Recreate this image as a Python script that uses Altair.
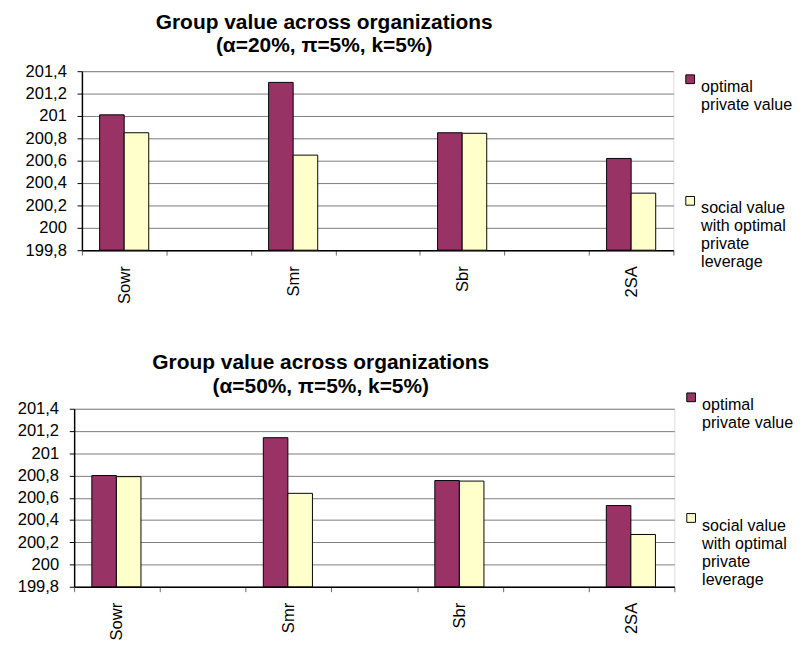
import altair as alt
import pandas as pd

categories = ["Sowr", "Smr", "Sbr", "2SA"]
axis_slots = ["Sowr", "gap1", "Smr", "gap2", "Sbr", "gap3", "2SA"]
series = ["optimal|private value", "social value|with optimal|private|leverage"]
colors = ["#993366", "#FFFFCC"]

top_private = [201.01, 201.30, 200.85, 200.62]
top_social = [200.85, 200.65, 200.845, 200.31]
bottom_private = [200.80, 201.14, 200.755, 200.53]
bottom_social = [200.79, 200.64, 200.75, 200.27]

y_ticks = [199.8, 200.0, 200.2, 200.4, 200.6, 200.8, 201.0, 201.2, 201.4]

top_title = ["Group value across organizations", "(α=20%, π=5%, k=5%)"]
bottom_title = ["Group value across organizations", "(α=50%, π=5%, k=5%)"]

FONT = "Liberation Sans"


def make_df(priv, soc):
    rows = []
    for c, p, s in zip(categories, priv, soc):
        rows.append({"cat": c, "series": series[0], "value": p})
        rows.append({"cat": c, "series": series[1], "value": s})
    return pd.DataFrame(rows)


def panel(df, title, w, h, ext, lx, ly, row_pad, t_offset, t_dx):
    return alt.Chart(df).mark_bar(stroke="black", strokeWidth=1).encode(
        x=alt.X(
            "cat:N",
            sort=axis_slots,
            scale=alt.Scale(domain=axis_slots, paddingInner=0, paddingOuter=0),
            axis=alt.Axis(
                title=None,
                labelAngle=-90,
                labelExpr="indexof(datum.label, 'gap') == 0 ? '' : datum.label",
                tickBand="extent",
                tickSize=5,
                tickColor="#666666",
                labelPadding=11,
                labelFontSize=17,
                labelFont=FONT,
                labelColor="black",
                domainColor="black",
                domainWidth=1.5,
                grid=False,
            ),
        ),
        xOffset=alt.XOffset(
            "series:N",
            scale=alt.Scale(domain=series, paddingOuter=0.72, paddingInner=0),
        ),
        y=alt.Y(
            "value:Q",
            scale=alt.Scale(domain=[199.8, 201.4], zero=False, nice=False),
            axis=alt.Axis(
                title=None,
                values=y_ticks,
                labelExpr="replace(toString(round(datum.value * 10) / 10), '.', ',')",
                tickSize=5,
                tickColor="black",
                labelPadding=11,
                labelFontSize=17,
                labelFont=FONT,
                labelColor="black",
                domainColor="black",
                domainWidth=1.5,
                grid=True,
                gridColor="#7a7a7a",
                gridWidth=1,
                minExtent=ext,
                maxExtent=ext,
            ),
        ),
        y2=alt.datum(199.8),
        color=alt.Color(
            "series:N",
            scale=alt.Scale(domain=series, range=colors),
            legend=alt.Legend(
                title=None,
                orient="none",
                legendX=lx,
                legendY=ly,
                direction="vertical",
                symbolType="square",
                symbolSize=81,
                symbolStrokeColor="black",
                symbolStrokeWidth=1,
                symbolOpacity=1,
                labelFont=FONT,
                labelFontSize=16.5,
                labelColor="black",
                labelLimit=0,
                labelOffset=3,
                labelBaseline="top",
                rowPadding=row_pad,
                labelExpr="split(datum.label, '|')",
            ),
        ),
    ).properties(
        width=w,
        height=h,
        title=alt.Title(
            title,
            font=FONT,
            fontSize=21.5,
            fontWeight="bold",
            lineHeight=24,
            anchor="middle",
            frame="group",
            dx=t_dx,
            offset=t_offset,
            color="black",
        ),
    )


def spacer():
    return alt.Chart(pd.DataFrame({"s": [0]})).mark_point(opacity=0).encode(
        x=alt.value(0), y=alt.value(0)
    ).properties(
        width=1,
        height=1,
        view=alt.ViewBackground(fill="transparent", stroke="transparent"),
    )


top = panel(make_df(top_private, top_social), top_title, 608, 184, 67, 617, 0, 81, 6, -55)
bottom = panel(make_df(bottom_private, bottom_social), bottom_title, 617, 183, 58, 626, -20, 80, -8, -55)

top_row = alt.hconcat(spacer(), top, spacing=0).resolve_scale(
    color="independent", x="independent", y="independent"
).resolve_legend(color="independent")
bottom_row = alt.hconcat(spacer(), bottom, spacing=0).resolve_scale(
    color="independent", x="independent", y="independent"
).resolve_legend(color="independent")

chart = alt.vconcat(top_row, bottom_row, spacing=49).resolve_scale(
    color="independent", x="independent", y="independent"
).resolve_legend(color="independent").properties(
    padding={"top": -5, "left": 0, "right": 0, "bottom": 0}
).configure_view(
    fill="#C0C0C0", stroke="#808080", strokeWidth=1.5
).configure(background="white")

chart.save("out.html", embed_options={"renderer": "svg", "actions": False})
